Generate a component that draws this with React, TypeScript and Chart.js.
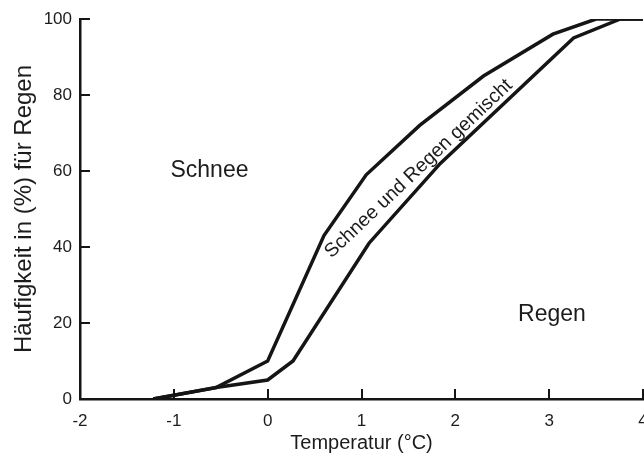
import React, { useEffect, useRef } from 'react';
import { Chart, registerables } from 'chart.js';

Chart.register(...registerables);

// ---- data ----
const upperX = [-1.22, -0.55, 0, 0.6, 1.05, 1.62, 2.3, 3.04, 3.5, 4];
const upperY = [0, 3, 10, 43, 59, 72, 85, 96, 100, 100];
const lowerX = [-1.22, -0.55, 0, 0.27, 1.08, 1.84, 3.26, 3.76, 4];
const lowerY = [0, 3, 5, 10, 41, 62, 95, 100, 100];
const xTicks = [-2, -1, 0, 1, 2, 3, 4];
const yTicks = [0, 20, 40, 60, 80, 100];

const xTitle = 'Temperatur (°C)';
const yTitle = 'Häufigkeit in (%) für Regen';

const regionLabels = [
  { text: 'Schnee', x: -0.62, y: 60, angle: 0, size: 23 },
  { text: 'Regen', x: 3.03, y: 22.2, angle: 0, size: 23 },
  { text: 'Schnee und Regen gemischt', x: 1.61, y: 60.6, angle: -43.5, size: 19.5 },
];

const FONT = "'Liberation Sans', Arial, Helvetica, sans-serif";
const INK = '#151515';
const TEXT = '#1c1c1c';

const overlayPlugin = {
  id: 'overlay',
  afterDatasetsDraw(chart: any) {
    const { ctx, chartArea } = chart;
    const xs = chart.scales.x;
    const ys = chart.scales.y;
    ctx.save();
    // inward tick marks
    ctx.strokeStyle = INK;
    ctx.lineWidth = 2;
    ctx.beginPath();
    for (const v of xTicks) {
      const px = Math.round(xs.getPixelForValue(v));
      ctx.moveTo(px, chartArea.bottom);
      ctx.lineTo(px, chartArea.bottom - 10);
    }
    for (const v of yTicks) {
      const py = Math.round(ys.getPixelForValue(v));
      ctx.moveTo(chartArea.left, py);
      ctx.lineTo(chartArea.left + 10, py);
    }
    ctx.stroke();
    // region labels
    ctx.fillStyle = TEXT;
    ctx.textAlign = 'center';
    ctx.textBaseline = 'middle';
    for (const l of regionLabels) {
      const px = xs.getPixelForValue(l.x);
      const py = ys.getPixelForValue(l.y);
      ctx.save();
      ctx.translate(px, py);
      ctx.rotate((l.angle * Math.PI) / 180);
      ctx.font = `${l.size}px ${FONT}`;
      ctx.fillText(l.text, 0, 0);
      ctx.restore();
    }
    ctx.restore();
  },
};

export default function App() {
  const ref = useRef<HTMLCanvasElement | null>(null);

  useEffect(() => {
    if (!ref.current) return;
    Chart.defaults.font.family = FONT;
    const line = (xs: number[], ys: number[]) => xs.map((x, i) => ({ x, y: ys[i] }));
    const chart = new Chart(ref.current, {
      type: 'line',
      data: {
        datasets: [
          {
            label: 'obere Grenze',
            data: line(upperX, upperY),
            borderColor: INK,
            borderWidth: 3.5,
            pointRadius: 0,
            tension: 0,
            fill: false,
            borderJoinStyle: 'miter',
          },
          {
            label: 'untere Grenze',
            data: line(lowerX, lowerY),
            borderColor: INK,
            borderWidth: 3.5,
            pointRadius: 0,
            tension: 0,
            fill: false,
            borderJoinStyle: 'miter',
          },
        ],
      },
      options: {
        animation: false,
        responsive: false,
        devicePixelRatio: 1,
        layout: { padding: { left: 0, top: 19, right: 37, bottom: 0 } },
        plugins: { legend: { display: false }, tooltip: { enabled: false } },
        scales: {
          x: {
            type: 'linear',
            min: -2,
            max: 4,
            afterBuildTicks: (s: any) => {
              s.ticks = xTicks.map((v) => ({ value: v }));
            },
            afterFit: (s: any) => {
              s.height = 56;
            },
            ticks: {
              padding: 12,
              color: TEXT,
              font: { size: 17, family: FONT, lineHeight: 1.2 },
              maxRotation: 0,
            },
            grid: { display: false, drawTicks: false },
            border: { display: true, color: INK, width: 2.5 },
            title: {
              display: true,
              text: xTitle,
              color: TEXT,
              font: { size: 20, family: FONT, lineHeight: 1.2 },
              padding: { top: 0, bottom: 0 },
            },
          },
          y: {
            type: 'linear',
            min: 0,
            max: 100,
            afterBuildTicks: (s: any) => {
              s.ticks = yTicks.map((v) => ({ value: v }));
            },
            afterFit: (s: any) => {
              s.width = 80;
            },
            ticks: {
              padding: 8,
              color: TEXT,
              font: { size: 17, family: FONT, lineHeight: 1.2 },
            },
            grid: { display: false, drawTicks: false },
            border: { display: true, color: INK, width: 2.5 },
            title: {
              display: true,
              text: yTitle,
              color: TEXT,
              font: { size: 24, family: FONT, lineHeight: 1.2 },
              padding: { top: 10, bottom: 0 },
            },
          },
        },
      },
      plugins: [overlayPlugin],
    } as any);
    return () => chart.destroy();
  }, []);

  return (
    <div
      style={{
        position: 'fixed',
        left: 0,
        top: 0,
        width: 644,
        height: 455,
        overflow: 'hidden',
        background: '#ffffff',
      }}
    >
      <canvas ref={ref} width={680} height={455} style={{ display: 'block', width: 680, height: 455 }} />
    </div>
  );
}
